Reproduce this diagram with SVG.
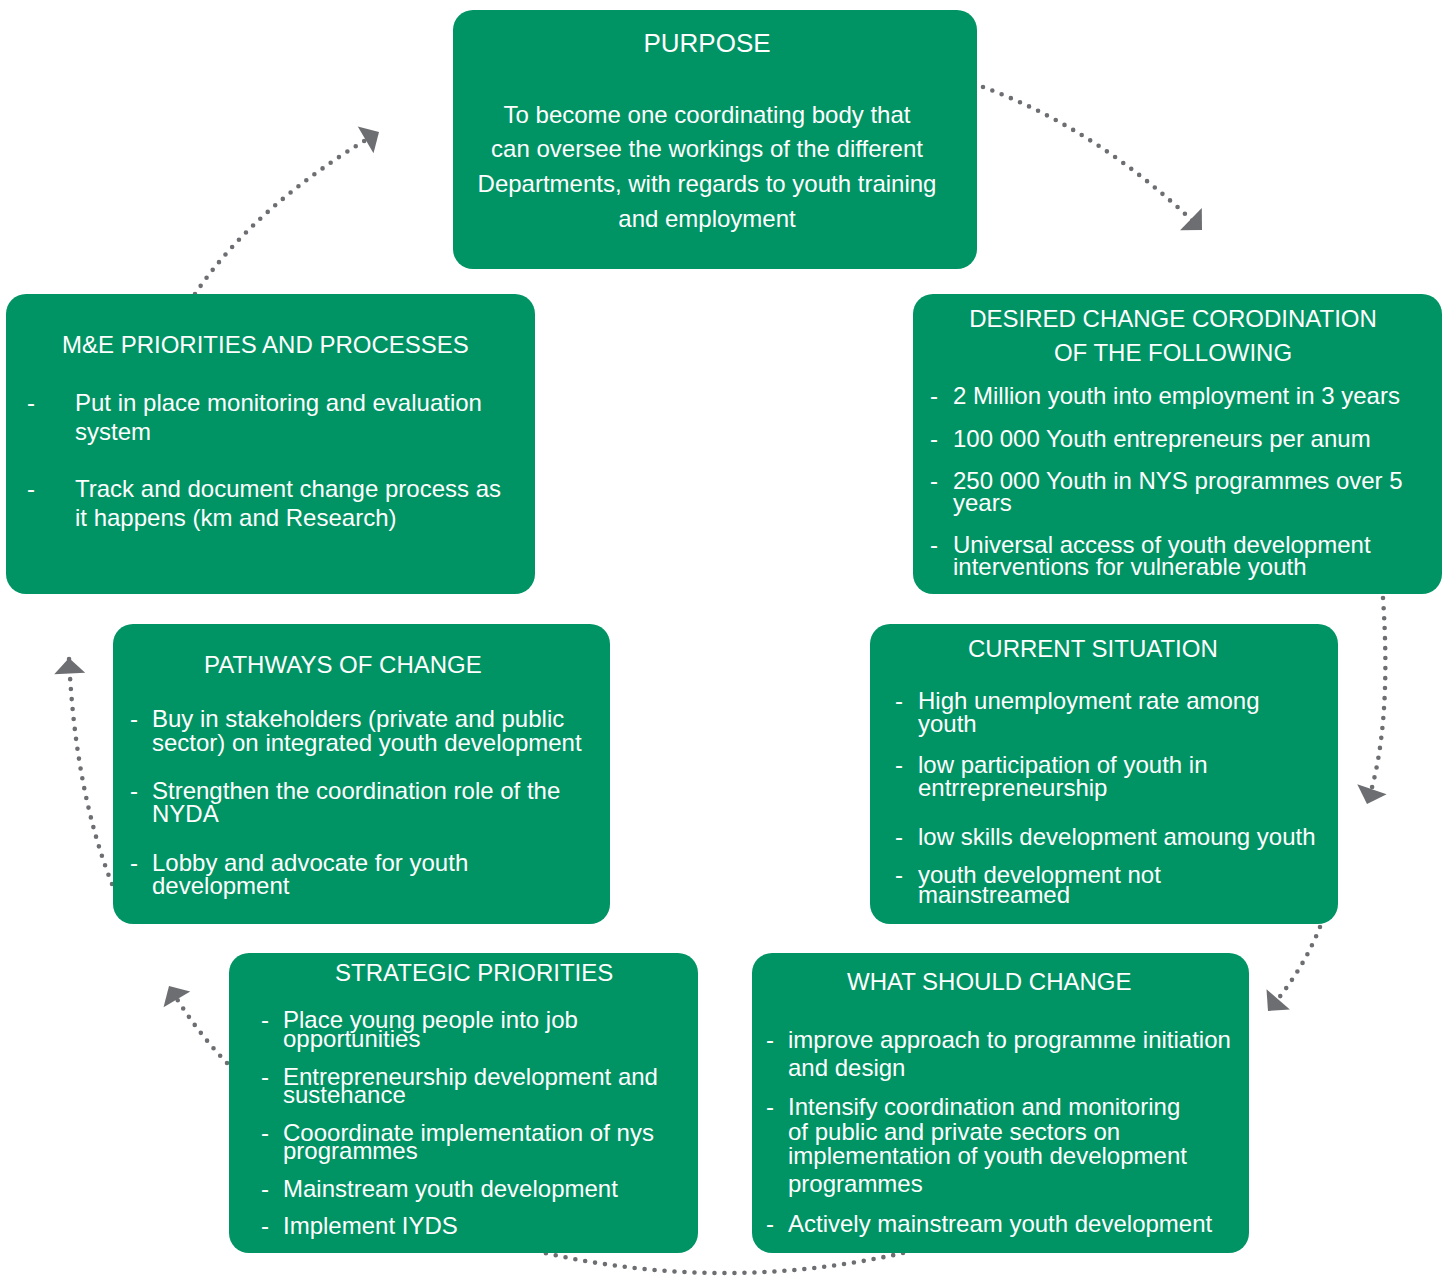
<svg xmlns="http://www.w3.org/2000/svg" width="1449" height="1276" viewBox="0 0 1449 1276">
<defs>
<style>
.box{fill:#009465;}
text{font-family:"Liberation Sans",Arial,Helvetica,sans-serif;fill:#ffffff;font-size:24px;}
.c{text-anchor:middle;}
.conn{fill:none;stroke:#6d6e71;stroke-width:4.6;stroke-linecap:round;stroke-dasharray:0 10;}
</style>
<marker id="ah" markerUnits="userSpaceOnUse" markerWidth="16" markerHeight="32" refX="15.5" refY="15.5" orient="auto" overflow="visible">
<path d="M0,0 L15.5,15.5 L0,31 z" fill="#6d6e71"/>
</marker>
</defs>
<rect width="1449" height="1276" fill="#ffffff"/>
<g id="connectors">
<path class="conn" d="M983 87 Q1100 130 1202 230" marker-end="url(#ah)"/>
<path class="conn" d="M1383 598 Q1392 730 1367 804" marker-end="url(#ah)"/>
<path class="conn" d="M1320 927 Q1302 972 1268 1011" marker-end="url(#ah)"/>
<path class="conn" d="M903 1253 Q725 1293 545 1253"/>
<path class="conn" d="M227 1063 Q195 1030 169 986" marker-end="url(#ah)"/>
<path class="conn" d="M112 884 Q75 790 69 658" marker-end="url(#ah)"/>
<path class="conn" d="M195 294 Q255 205 379 132" marker-end="url(#ah)"/>
</g>
<g id="purpose">
<rect class="box" x="453" y="10" width="524" height="259" rx="20"/>
<text class="c" x="707" y="52" style="font-size:26px">PURPOSE</text>
<text class="c" x="707" y="123">To become one coordinating body that</text>
<text class="c" x="707" y="157">can oversee the workings of the different</text>
<text class="c" x="707" y="192">Departments, with regards to youth training</text>
<text class="c" x="707" y="227">and employment</text>
</g>
<g id="desired-change">
<rect class="box" x="913" y="294" width="529" height="300" rx="20"/>
<text class="c" x="1173" y="327">DESIRED CHANGE CORODINATION</text>
<text class="c" x="1173" y="361">OF THE FOLLOWING</text>
<text x="930" y="404">-</text><text x="953" y="404">2 Million youth into employment in 3 years</text>
<text x="930" y="447">-</text><text x="953" y="447">100 000 Youth entrepreneurs per anum</text>
<text x="930" y="489">-</text><text x="953" y="489">250 000 Youth in NYS programmes over 5</text>
<text x="953" y="511">years</text>
<text x="930" y="553">-</text><text x="953" y="553">Universal access of youth development</text>
<text x="953" y="575">interventions for vulnerable youth</text>
</g>
<g id="me-priorities">
<rect class="box" x="6" y="294" width="529" height="300" rx="20"/>
<text x="62" y="353">M&amp;E PRIORITIES AND PROCESSES</text>
<text x="27" y="411">-</text><text x="75" y="411">Put in place monitoring and evaluation</text>
<text x="75" y="440">system</text>
<text x="27" y="497">-</text><text x="75" y="497">Track and document change process as</text>
<text x="75" y="526">it happens (km and Research)</text>
</g>
<g id="current-situation">
<rect class="box" x="870" y="624" width="468" height="300" rx="20"/>
<text x="968" y="657">CURRENT SITUATION</text>
<text x="895" y="709">-</text><text x="918" y="709">High unemployment rate among</text>
<text x="918" y="732">youth</text>
<text x="895" y="773">-</text><text x="918" y="773">low participation of youth in</text>
<text x="918" y="796">entrrepreneurship</text>
<text x="895" y="845">-</text><text x="918" y="845">low skills development amoung youth</text>
<text x="895" y="883">-</text><text x="918" y="883">youth development not</text>
<text x="918" y="903">mainstreamed</text>
</g>
<g id="pathways">
<rect class="box" x="113" y="624" width="497" height="300" rx="20"/>
<text x="204" y="673">PATHWAYS OF CHANGE</text>
<text x="130" y="727">-</text><text x="152" y="727">Buy in stakeholders (private and public</text>
<text x="152" y="751">sector) on integrated youth development</text>
<text x="130" y="799">-</text><text x="152" y="799">Strengthen the coordination role of the</text>
<text x="152" y="822">NYDA</text>
<text x="130" y="871">-</text><text x="152" y="871">Lobby and advocate for youth</text>
<text x="152" y="894">development</text>
</g>
<g id="strategic-priorities">
<rect class="box" x="229" y="953" width="469" height="300" rx="20"/>
<text x="335" y="981">STRATEGIC PRIORITIES</text>
<text x="261" y="1028">-</text><text x="283" y="1028">Place young people into job</text>
<text x="283" y="1047">opportunities</text>
<text x="261" y="1085">-</text><text x="283" y="1085">Entrepreneurship development and</text>
<text x="283" y="1103">sustenance</text>
<text x="261" y="1141">-</text><text x="283" y="1141">Cooordinate implementation of nys</text>
<text x="283" y="1159">programmes</text>
<text x="261" y="1197">-</text><text x="283" y="1197">Mainstream youth development</text>
<text x="261" y="1234">-</text><text x="283" y="1234">Implement IYDS</text>
</g>
<g id="what-should-change">
<rect class="box" x="752" y="953" width="497" height="300" rx="20"/>
<text x="847" y="990">WHAT SHOULD CHANGE</text>
<text x="766" y="1048">-</text><text x="788" y="1048">improve approach to programme initiation</text>
<text x="788" y="1076">and design</text>
<text x="766" y="1115">-</text><text x="788" y="1115">Intensify coordination and monitoring</text>
<text x="788" y="1140">of public and private sectors on</text>
<text x="788" y="1164">implementation of youth development</text>
<text x="788" y="1192">programmes</text>
<text x="766" y="1232">-</text><text x="788" y="1232">Actively mainstream youth development</text>
</g>
</svg>
